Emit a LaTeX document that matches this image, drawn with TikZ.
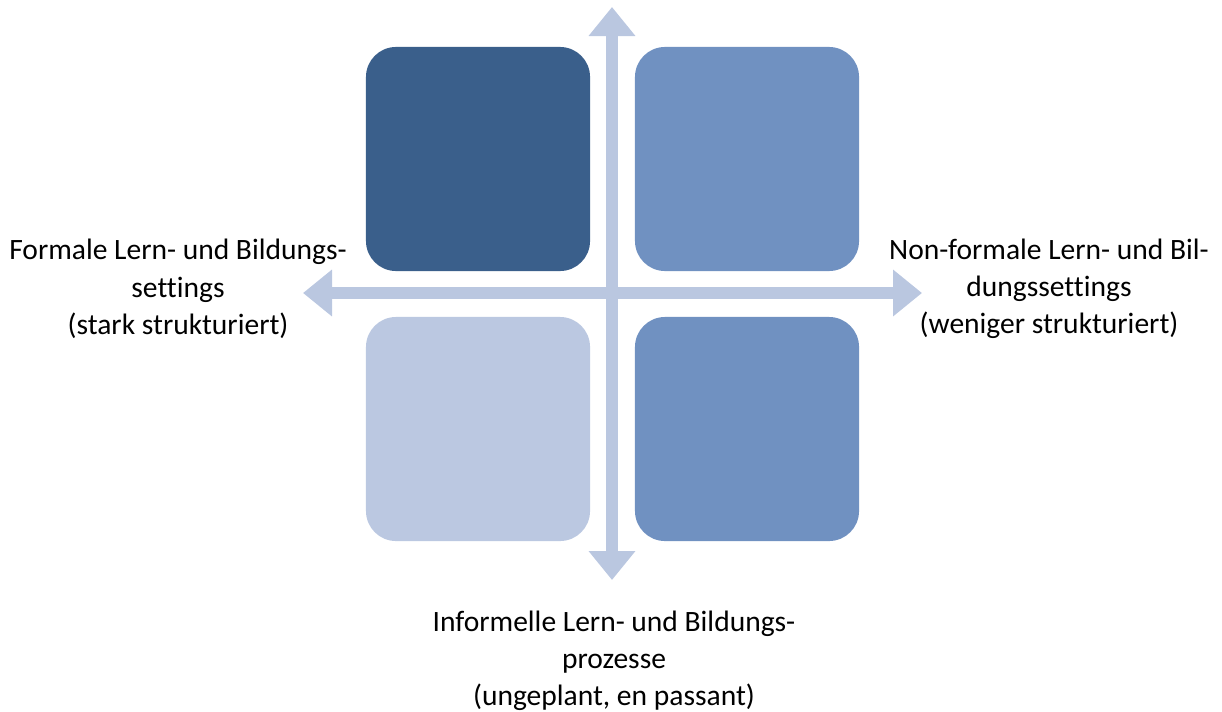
\documentclass[tikz,border=0pt]{standalone}
\usepackage{fontspec}
\setmainfont{Carlito}[Ligatures=NoCommon]
\usetikzlibrary{arrows.meta}

\definecolor{qdark}{RGB}{58,95,139}
\definecolor{qmid}{RGB}{112,145,193}
\definecolor{qlight}{RGB}{187,200,225}
\definecolor{axiscol}{RGB}{186,199,224}

\begin{document}
\begin{tikzpicture}[x=0.025cm, y=-0.025cm,
      quad/.style={rounded corners=0.75cm, minimum width=5.6cm,
                   minimum height=5.6cm, inner sep=0pt},
      axis/.style={line width=0.3cm, draw=axiscol,
                   {Triangle[width=1.125cm, length=0.725cm]}-{Triangle[width=1.125cm, length=0.725cm]}},
      lbl/.style={font=\fontsize{21}{26.5}\selectfont, align=center, inner sep=0pt}]

    \useasboundingbox (0,0) rectangle (1222,711);

    % ============================
    % AXES (drawn first, boxes sit in the quadrants)
    % ============================
    \coordinate (west)  at (303,293);
    \coordinate (east)  at (922,293);
    \coordinate (north) at (612,7);
    \coordinate (south) at (612,580);

    \draw[axis] (west) -- (east);
    \draw[axis] (south) -- (north);

    % ============================
    % QUADRANTS
    % ============================
    \node[quad, fill=qdark]  (tl) at (478,159) {};
    \node[quad, fill=qmid]   (tr) at (747,159) {};
    \node[quad, fill=qlight] (bl) at (478,429) {};
    \node[quad, fill=qmid]   (br) at (747,429) {};

    % ============================
    % LABELS at the arrow ends
    % ============================
    \node[lbl] (formal) at (178,289)
      {Formale Lern- und Bildungs-\\settings\\(stark strukturiert)};
    \node[lbl] (nonformal) at (1049,289)
      {Non-formale Lern- und Bil-\\dungssettings\\(weniger strukturiert)};
    \node[lbl] (informal) at (614,661)
      {Informelle Lern- und Bildungs-\\prozesse\\(ungeplant, en passant)};

\end{tikzpicture}
\end{document}
